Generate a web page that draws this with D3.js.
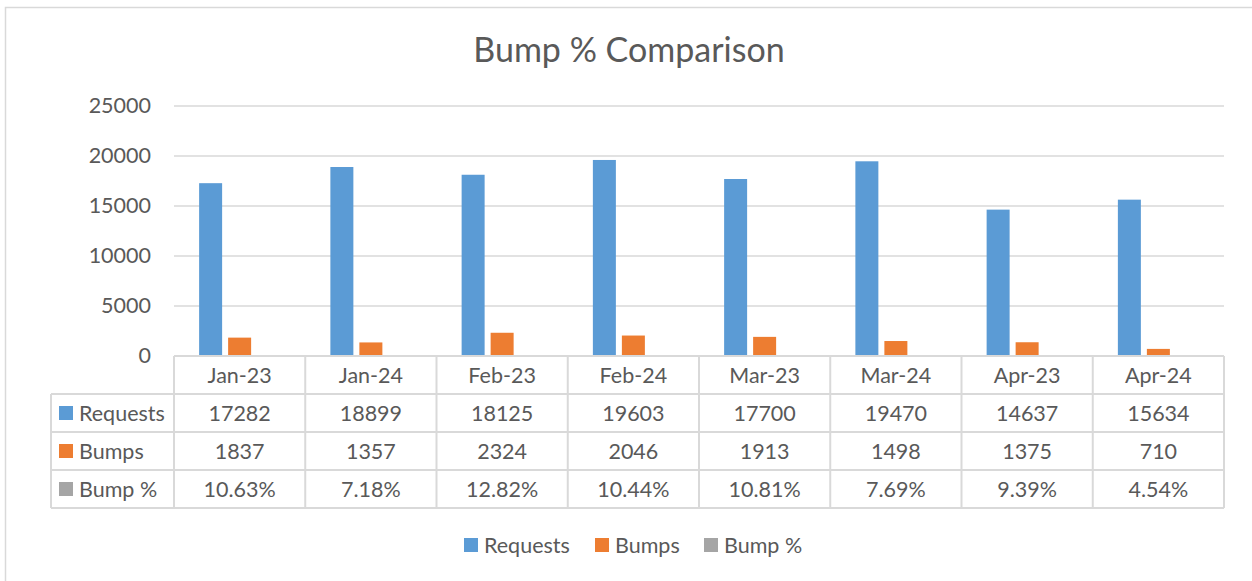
<!DOCTYPE html>
<html>
<head>
<meta charset="utf-8">
<script src="https://cdn.jsdelivr.net/npm/d3@7"></script>
<style>
  body { margin: 0; background: #fff; }
  svg text { font-family: Lato, "Open Sans", sans-serif; fill: #595959; }
</style>
</head>
<body>
<div id="chart"></div>
<script>
// data
var categories = ["Jan-23", "Jan-24", "Feb-23", "Feb-24", "Mar-23", "Mar-24", "Apr-23", "Apr-24"];
var requests = [17282, 18899, 18125, 19603, 17700, 19470, 14637, 15634];
var bumps = [1837, 1357, 2324, 2046, 1913, 1498, 1375, 710];
var bumpPct = [10.63, 7.18, 12.82, 10.44, 10.81, 7.69, 9.39, 4.54];
var yTicks = [0, 5000, 10000, 15000, 20000, 25000];

var seriesNames = ["Requests", "Bumps", "Bump %"];
var colors = ["#5B9BD5", "#ED7D31", "#A5A5A5"];

var series = [
  { name: "Requests", values: requests, labels: requests.map(String) },
  { name: "Bumps", values: bumps, labels: bumps.map(String) },
  // plotted on the same axis as the raw fraction, so they are flat
  { name: "Bump %", values: bumpPct.map(function(d) { return d / 100; }),
    labels: bumpPct.map(function(d) { return d.toFixed(2) + "%"; }) }
];

var W = 1252, H = 581;
var plot = { left: 174, right: 1224, top: 106, bottom: 356 };
var tableLeft = 51, rowH = 38;
var gridColor = "#D9D9D9";
var fs = "21.5px";

var svg = d3.select("#chart")
  .append("svg")
    .attr("width", W)
    .attr("height", H);

// chart area frame (runs off the right and bottom edge)
svg.append("rect")
  .attr("x", 5.5).attr("y", 7.5)
  .attr("width", W).attr("height", H)
  .attr("fill", "#fff")
  .attr("stroke", gridColor)
  .attr("stroke-width", 1.5);

// title
svg.append("text")
  .attr("x", 629)
  .attr("y", 62)
  .attr("text-anchor", "middle")
  .style("font-size", "34px")
  .text("Bump % Comparison");

var x = d3.scaleBand()
  .domain(categories)
  .range([plot.left, plot.right])
  .padding(0);

var y = d3.scaleLinear()
  .domain([0, 25000])
  .range([plot.bottom, plot.top]);

// gridlines
svg.append("g")
  .selectAll("line")
  .data(yTicks)
  .enter()
  .append("line")
    .attr("x1", plot.left)
    .attr("x2", plot.right)
    .attr("y1", function(d) { return y(d); })
    .attr("y2", function(d) { return y(d); })
    .attr("stroke", gridColor)
    .attr("stroke-width", 1.5);

// y axis labels
var yAxis = svg.append("g")
  .attr("transform", "translate(" + (plot.left - 23) + ",0)")
  .call(d3.axisLeft(y).tickValues(yTicks).tickFormat(d3.format("d")).tickSize(0).tickPadding(0));
yAxis.select(".domain").remove();
yAxis.selectAll(".tick text")
  .style("font-size", fs)
  .attr("fill", "#595959")
  .attr("font-family", "Lato, sans-serif");

// bars
var groupW = 81;
var xs = d3.scaleBand()
  .domain(seriesNames)
  .range([-groupW / 2, groupW / 2])
  .paddingInner(0.207)
  .paddingOuter(0);

svg.append("g")
  .selectAll("g")
  .data(series)
  .enter()
  .append("g")
    .attr("fill", function(d, i) { return colors[i]; })
  .selectAll("rect")
  .data(function(d) { return d.values.map(function(v, i) { return { name: d.name, cat: categories[i], value: v }; }); })
  .enter()
  .append("rect")
    .attr("x", function(d) { return x(d.cat) + x.bandwidth() / 2 + xs(d.name); })
    .attr("width", xs.bandwidth())
    .attr("y", function(d) { return y(d.value); })
    .attr("height", function(d) { return y(0) - y(d.value); });

// data table
var table = svg.append("g");
var tableTop = plot.bottom;
var tableBottom = tableTop + rowH * 4;

// horizontal lines
[0, 1, 2, 3, 4].forEach(function(r) {
  table.append("line")
    .attr("x1", r === 0 ? plot.left : tableLeft)
    .attr("x2", plot.right)
    .attr("y1", tableTop + r * rowH)
    .attr("y2", tableTop + r * rowH)
    .attr("stroke", gridColor)
    .attr("stroke-width", 2);
});

// vertical lines
table.append("line")
  .attr("x1", tableLeft).attr("x2", tableLeft)
  .attr("y1", tableTop + rowH).attr("y2", tableBottom)
  .attr("stroke", gridColor).attr("stroke-width", 2);
table.selectAll(".vline")
  .data(categories.concat(["end"]))
  .enter()
  .append("line")
    .attr("x1", function(d) { return d === "end" ? plot.right : x(d); })
    .attr("x2", function(d) { return d === "end" ? plot.right : x(d); })
    .attr("y1", tableTop)
    .attr("y2", tableBottom)
    .attr("stroke", gridColor)
    .attr("stroke-width", 2);

// header row
table.selectAll(".cat")
  .data(categories)
  .enter()
  .append("text")
    .attr("x", function(d) { return x(d) + x.bandwidth() / 2; })
    .attr("y", tableTop + rowH / 2)
    .attr("dy", "0.35em")
    .attr("text-anchor", "middle")
    .style("font-size", fs)
    .text(function(d) { return d; });

// series rows
series.forEach(function(s, r) {
  var cy = tableTop + (r + 1) * rowH + rowH / 2;
  table.append("rect")
    .attr("x", 59).attr("y", cy - 7)
    .attr("width", 14).attr("height", 14)
    .attr("fill", colors[r]);
  table.append("text")
    .attr("x", 79).attr("y", cy)
    .attr("dy", "0.35em")
    .style("font-size", fs)
    .text(s.name);
  table.selectAll(".v" + r)
    .data(s.labels)
    .enter()
    .append("text")
      .attr("x", function(d, i) { return x(categories[i]) + x.bandwidth() / 2; })
      .attr("y", cy)
      .attr("dy", "0.35em")
      .attr("text-anchor", "middle")
      .style("font-size", fs)
      .text(function(d) { return d; });
});

// legend
var legendX = [464, 595, 704];
var legend = svg.append("g");
seriesNames.forEach(function(name, i) {
  legend.append("rect")
    .attr("x", legendX[i]).attr("y", 538)
    .attr("width", 14).attr("height", 14)
    .attr("fill", colors[i]);
  legend.append("text")
    .attr("x", legendX[i] + 20).attr("y", 545)
    .attr("dy", "0.35em")
    .style("font-size", fs)
    .text(name);
});
</script>
</body>
</html>
